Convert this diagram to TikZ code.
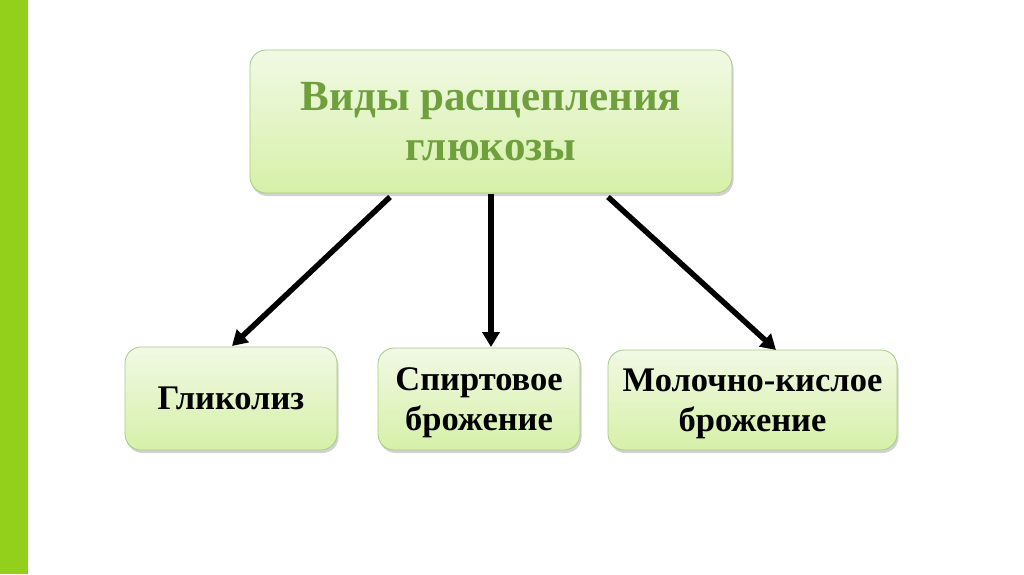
\documentclass[tikz,border=0pt]{standalone}
\usepackage{fontspec}
\setmainfont{Liberation Serif}
\usetikzlibrary{shadows,arrows.meta}
\definecolor{barGreen}{RGB}{146,208,28}
\definecolor{boxTop}{RGB}{241,249,228}
\definecolor{boxBot}{RGB}{214,240,168}
\definecolor{boxLine}{RGB}{170,200,135}
\definecolor{titleGreen}{RGB}{112,160,62}
\tikzset{
  gbox/.style={draw=boxLine, line width=0.8pt, rounded corners=16pt,
    top color=boxTop, bottom color=boxBot, align=center,
    drop shadow={opacity=0.35, shadow xshift=1.5pt, shadow yshift=-3pt},
    font=\bfseries, inner sep=0pt},
  conn/.style={line width=5.5pt, -{Triangle[length=15pt,width=17pt]}}
}
\begin{document}
\begin{tikzpicture}[x=1pt,y=-1pt]
\useasboundingbox (0,0) rectangle (1024,574);
\fill[white] (0,0) rectangle (1024,574);
\fill[barGreen] (0,0) rectangle (28,574);
\node[gbox, minimum width=482pt, minimum height=143pt, text=titleGreen, text depth=0pt,
  font=\bfseries\fontsize{43}{50}\selectfont] (top) at (491,121.5)
  {Виды расщепления\\глюкозы};
\node[gbox, minimum width=212pt, minimum height=103pt,
  font=\bfseries\fontsize{34.5}{39}\selectfont] (g) at (231,398.5) {Гликолиз};
\node[gbox, minimum width=202pt, minimum height=102pt, text depth=0pt,
  font=\bfseries\fontsize{34.5}{39.5}\selectfont] (s) at (479,399) {Спиртовое\\брожение};
\node[gbox, minimum width=289pt, minimum height=100pt, text depth=0pt,
  font=\bfseries\fontsize{34.5}{39.5}\selectfont] (m) at (752.5,400) {Молочно-кислое\\брожение};
\coordinate (a1) at (390,197);
\coordinate (a2) at (491,194);
\coordinate (a3) at (608,197);
\coordinate (b1) at (232,346);
\coordinate (b2) at (491,347);
\coordinate (b3) at (776,350);
\draw[conn] (a1) -- (b1);
\draw[conn] (a2) -- (b2);
\draw[conn] (a3) -- (b3);
\end{tikzpicture}
\end{document}
